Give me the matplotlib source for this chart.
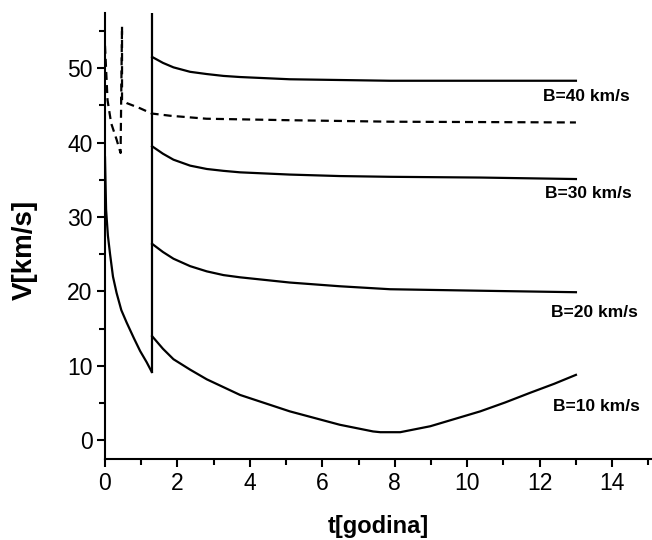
import matplotlib
matplotlib.use("Agg")
import matplotlib.pyplot as plt
from matplotlib.ticker import MultipleLocator

plt.rcParams['font.family'] = ['Liberation Sans', 'DejaVu Sans']

# Initial decay (solid) before the jump at t ~ 1.3 h
t_init = [0.0, 0.03, 0.08, 0.14, 0.22, 0.32, 0.45, 0.6, 0.8, 0.97, 1.15, 1.29]
v_init = [38.0, 31.0, 27.5, 25.0, 22.0, 19.8, 17.5, 15.8, 13.7, 12.0, 10.5, 9.2]
# Vertical jump of the solid line
t_jump = [1.29, 1.29]
v_jump = [9.2, 60.0]

# Dashed curve
t_dash = [0.0, 0.07, 0.17, 0.32, 0.43, 0.47, 0.47, 0.6, 0.97, 1.29, 1.8, 2.8, 5.1, 7.9, 13.0]
v_dash = [53.0, 45.7, 42.6, 40.4, 38.6, 55.6, 45.7, 45.3, 44.6, 43.9, 43.6, 43.2, 43.0, 42.8, 42.7]

# Branches after the jump
t_b = [1.3, 1.6, 1.89, 2.35, 2.81, 3.27, 3.73, 5.1, 6.48, 7.87, 10.36, 13.0]
v_b40 = [51.5, 50.7, 50.1, 49.5, 49.2, 48.95, 48.8, 48.5, 48.4, 48.3, 48.3, 48.3]
v_b30 = [39.5, 38.5, 37.7, 36.9, 36.45, 36.2, 36.0, 35.7, 35.5, 35.4, 35.3, 35.1]
v_b20 = [26.4, 25.3, 24.4, 23.4, 22.7, 22.2, 21.9, 21.2, 20.7, 20.3, 20.1, 19.9]

t_b10 = [1.3, 1.6, 1.89, 2.35, 2.81, 3.73, 5.1, 6.48, 7.4, 7.6, 8.15, 8.98, 9.67, 10.36, 11.05, 11.74, 12.4, 13.0]
v_b10 = [14.0, 12.3, 10.9, 9.5, 8.2, 6.1, 3.9, 2.1, 1.2, 1.1, 1.1, 1.9, 2.9, 3.9, 5.1, 6.4, 7.6, 8.8]

labels = ["B=40 km/s", "B=30 km/s", "B=20 km/s", "B=10 km/s"]
label_t = [12.1, 12.15, 12.3, 12.37]
label_v = [46.2, 33.1, 17.2, 4.6]

fig = plt.figure(figsize=(6.52, 5.40), dpi=100)
ax = fig.add_axes([105/652, 81/540, 547/652, 446/540])

lw = 1.6
ax.plot(t_init, v_init, color='black', lw=lw)
ax.plot(t_jump, v_jump, color='black', lw=lw)
ax.plot(t_dash, v_dash, color='black', lw=lw, ls=(0, (3.6, 2.3)))
ax.plot(t_b, v_b40, color='black', lw=lw)
ax.plot(t_b, v_b30, color='black', lw=lw)
ax.plot(t_b, v_b20, color='black', lw=lw)
ax.plot(t_b10, v_b10, color='black', lw=lw)

for lab, tx, vy in zip(labels, label_t, label_v):
    ax.text(tx, vy, lab, fontsize=12.5, fontweight='bold', ha='left', va='center')

ax.set_xlim(0, 15.1)
ax.set_ylim(-2.5, 57.4)
ax.xaxis.set_major_locator(MultipleLocator(2))
ax.xaxis.set_minor_locator(MultipleLocator(1))
ax.yaxis.set_major_locator(MultipleLocator(10))
ax.yaxis.set_minor_locator(MultipleLocator(5))

for s in ['top', 'right']:
    ax.spines[s].set_visible(False)
for s in ['left', 'bottom']:
    ax.spines[s].set_linewidth(1.5)

ax.tick_params(which='major', direction='out', length=5.5, width=1.5, labelsize=16.5, pad=3.5)
ax.tick_params(which='minor', direction='out', length=4, width=1.5)

ax.set_xlabel("t[godina]", fontsize=17, fontweight='bold', va='center')
ax.xaxis.set_label_coords((378-105)/547, (459-527)/446)
ax.set_ylabel("V[km/s]", fontsize=20, fontweight='bold', va='center')
ax.yaxis.set_label_coords((25-105)/547, (459-250)/446)

fig.savefig("out.png", dpi=100)
